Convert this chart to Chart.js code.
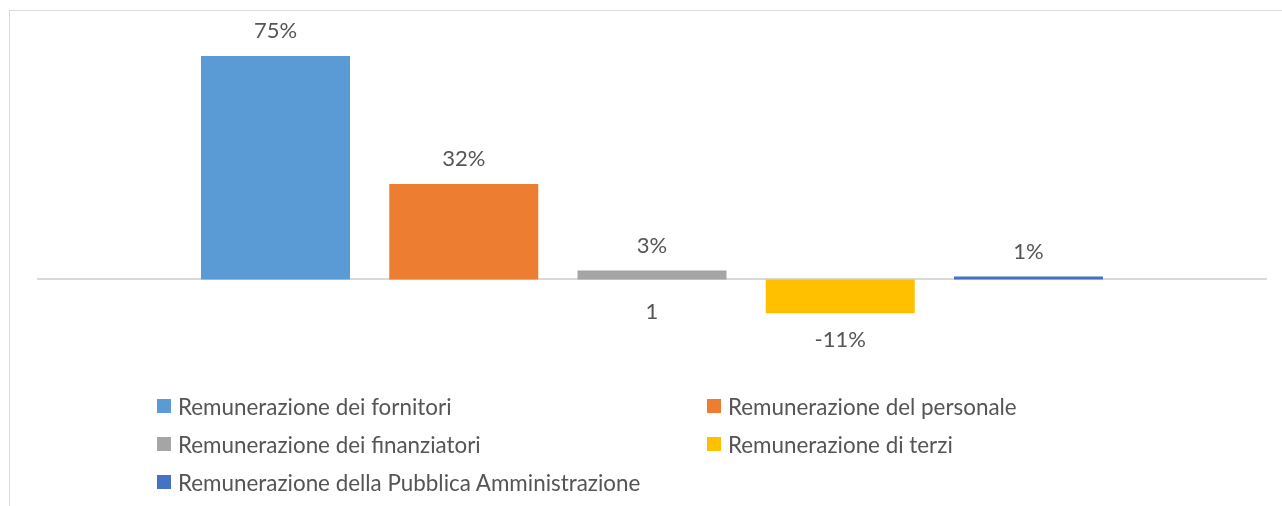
<!DOCTYPE html>
<html>
<head>
<meta charset="utf-8">
<script src="https://cdn.jsdelivr.net/npm/chart.js@4/dist/chart.umd.min.js"></script>
<style>
  html, body { margin: 0; background: #fff; }
  #wrap { position: relative; width: 1282px; height: 506px; overflow: hidden; }
  #frame { position: absolute; left: 9px; top: 10px; width: 1400px; height: 600px; border: 1.5px solid #d9d9d9; }
  #chart { position: absolute; left: 0; top: 0; }
  .item { position: absolute; height: 22px; display: flex; align-items: center; white-space: nowrap;
          font-family: Lato, sans-serif; font-size: 22.4px; color: #555; }
  .item i { display: inline-block; width: 14px; height: 14px; margin-right: 7px; }
</style>
</head>
<body>
<div id="wrap">
  <div id="frame"></div>
  <canvas id="chart" width="1282" height="506"></canvas>
  <div id="legend"></div>
</div>
<script>
const $ = (id) => document.getElementById(id);

const categories = ["1"];
const seriesNames = [
  "Remunerazione dei fornitori",
  "Remunerazione del personale",
  "Remunerazione dei finanziatori",
  "Remunerazione di terzi",
  "Remunerazione della Pubblica Amministrazione",
];
const seriesValues = [75, 32, 3, -11.4, 1];
const seriesColors = ["#5b9bd5", "#ed7d31", "#a5a5a5", "#ffc000", "#4472c4"];

const textColor = "#555";
const fontFamily = "Lato, sans-serif";

// value labels above / below each bar
const barLabels = {
  id: "barLabels",
  afterDatasetsDraw(chart) {
    const ctx = chart.ctx;
    ctx.save();
    ctx.font = `22px ${fontFamily}`;
    ctx.fillStyle = textColor;
    ctx.textAlign = "center";
    ctx.textBaseline = "middle";
    chart.data.datasets.forEach((ds, i) => {
      chart.getDatasetMeta(i).data.forEach((bar, j) => {
        const v = ds.data[j];
        const y = v >= 0 ? bar.y - 25 : bar.y + 27;
        ctx.fillText(`${Math.round(v)}%`, bar.x, y);
      });
    });
    ctx.restore();
  }
};

new Chart($("chart").getContext("2d"), {
  type: "bar",
  data: {
    labels: categories,
    datasets: seriesNames.map((name, i) => ({
      label: name,
      data: [seriesValues[i]],
      backgroundColor: seriesColors[i],
      borderWidth: 0,
      barPercentage: 0.7915,
      categoryPercentage: 0.7665,
    }))
  },
  options: {
    responsive: false,
    animation: false,
    layout: { padding: { left: 38, right: 16, top: 41, bottom: 167 } },
    plugins: { legend: { display: false }, tooltip: { enabled: false } },
    scales: {
      x: {
        position: { y: 0 },
        grid: { display: false, drawTicks: false },
        border: { display: true, color: "#d9d9d9", width: 2 },
        ticks: { color: textColor, font: { family: fontFamily, size: 22 }, padding: 19 }
      },
      y: { display: false, min: -20, max: 80 }
    }
  },
  plugins: [barLabels]
});

// legend in two columns, as in the original
const legendPos = [
  [157, 406], [707, 406],
  [157, 444], [707, 444],
  [157, 482],
];
seriesNames.forEach((name, i) => {
  const d = document.createElement("div");
  d.className = "item";
  d.style.left = legendPos[i][0] + "px";
  d.style.top = (legendPos[i][1] - 11) + "px";
  d.innerHTML = `<i style="background:${seriesColors[i]}"></i>${name}`;
  $("legend").appendChild(d);
});
</script>
</body>
</html>
